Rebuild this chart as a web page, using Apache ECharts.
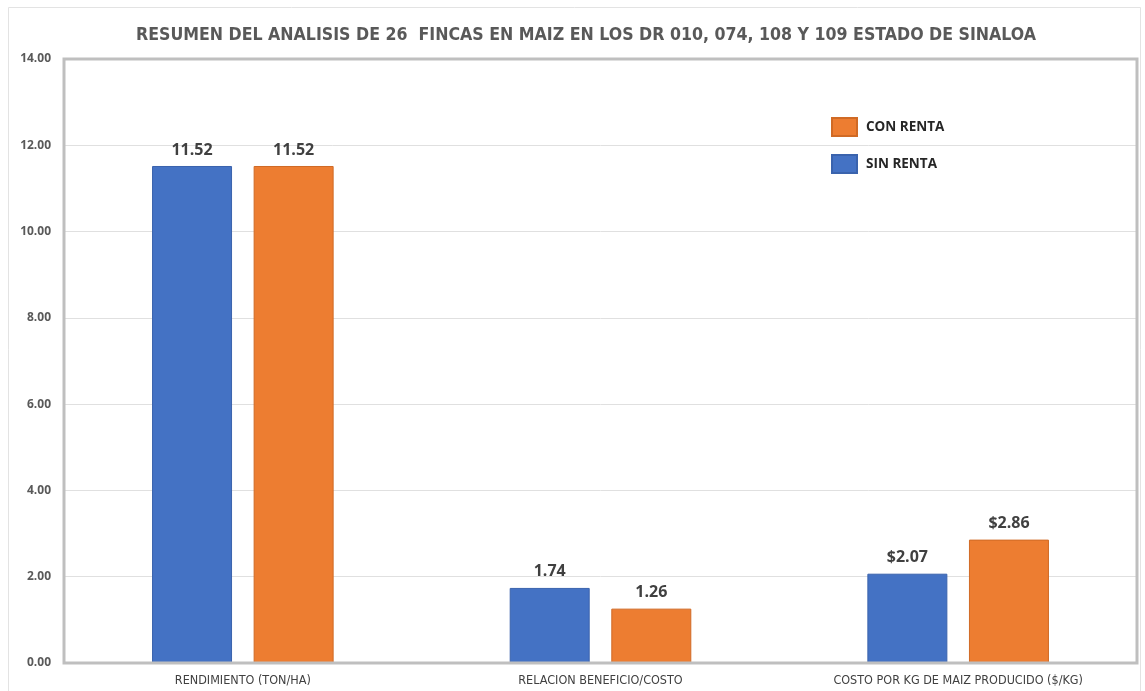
<!DOCTYPE html>
<html>
<head>
<meta charset="utf-8">
<script src="https://cdn.jsdelivr.net/npm/echarts@6/dist/echarts.min.js"></script>
<style>
  html, body { margin: 0; padding: 0; background: #fff; }
  #chart { width: 1145px; height: 691px; }
</style>
</head>
<body>
<div id="chart"></div>
<script>
// datos del grafico
const categorias = ['RENDIMIENTO (TON/HA)', 'RELACION BENEFICIO/COSTO', 'COSTO POR KG DE MAIZ PRODUCIDO ($/KG)'];
const sinRenta = [11.52, 1.74, 2.07];
const conRenta = [11.52, 1.26, 2.86];
const esMoneda = [false, false, true];

const fuenteAngosta = "'DejaVu Sans Condensed', Roboto, sans-serif";

const chart = echarts.init(document.getElementById('chart'));

function etiqueta(p) {
    const v = p.value.toFixed(2);
    return esMoneda[p.dataIndex] ? '$' + v : v;
}

const option = {
    animation: false,
    backgroundColor: '#fff',
    title: {
        text: 'RESUMEN DEL ANALISIS DE 26  FINCAS EN MAIZ EN LOS DR 010, 074, 108 Y 109 ESTADO DE SINALOA',
        left: 581,
        top: 21,
        textAlign: 'center',
        textStyle: {
            fontFamily: fuenteAngosta,
            fontSize: 17.6,
            fontWeight: 'bold',
            color: '#595959'
        }
    },
    graphic: [{
        type: 'rect',
        shape: { x: 8.5, y: 7.5, width: 1132, height: 700 },
        style: { fill: 'none', stroke: '#e3e3e3', lineWidth: 1 },
        silent: true
    }, {
        type: 'rect',
        shape: { x: 64, y: 59, width: 1073, height: 604 },
        style: { fill: 'none', stroke: '#bfbfbf', lineWidth: 3 },
        silent: true,
        z: 10
    }],
    legend: {
        data: ['CON RENTA', 'SIN RENTA'],
        orient: 'vertical',
        left: 826,
        top: 112,
        itemWidth: 25,
        itemHeight: 18,
        itemGap: 17,
        icon: 'rect',
        textStyle: {
            fontFamily: 'Open Sans',
            fontSize: 13.5,
            fontWeight: 'bold',
            color: '#262626',
            padding: [0, 0, 0, 4]
        }
    },
    grid: {
        left: 64,
        right: 8,
        top: 59,
        bottom: 28,
        containLabel: false
    },
    xAxis: {
        type: 'category',
        data: categorias,
        axisLine: { show: false },
        axisTick: { show: false },
        axisLabel: {
            margin: 11,
            fontFamily: fuenteAngosta,
            fontSize: 12.5,
            color: '#404040'
        }
    },
    yAxis: {
        type: 'value',
        min: 0,
        max: 14,
        interval: 2,
        axisLine: { show: false },
        axisTick: { show: false },
        splitLine: { lineStyle: { color: '#e0e0e0', width: 1 } },
        axisLabel: {
            margin: 13,
            fontFamily: 'Open Sans',
            fontSize: 12,
            fontWeight: 'bold',
            color: '#595959',
            formatter: v => v.toFixed(2)
        }
    },
    series: [{
        name: 'SIN RENTA',
        type: 'bar',
        data: sinRenta,
        barWidth: 80,
        barGap: '27%',
        itemStyle: { color: '#4472C4', borderColor: '#3a63ad', borderWidth: 1 },
        label: {
            show: true,
            position: 'top',
            distance: 8,
            formatter: etiqueta,
            fontFamily: 'Open Sans',
            fontSize: 16,
            fontWeight: 'bold',
            color: '#404040'
        }
    }, {
        name: 'CON RENTA',
        type: 'bar',
        data: conRenta,
        barWidth: 80,
        itemStyle: { color: '#ED7D31', borderColor: '#d06a25', borderWidth: 1 },
        label: {
            show: true,
            position: 'top',
            distance: 8,
            formatter: etiqueta,
            fontFamily: 'Open Sans',
            fontSize: 16,
            fontWeight: 'bold',
            color: '#404040'
        }
    }]
};

chart.setOption(option);
</script>
</body>
</html>
